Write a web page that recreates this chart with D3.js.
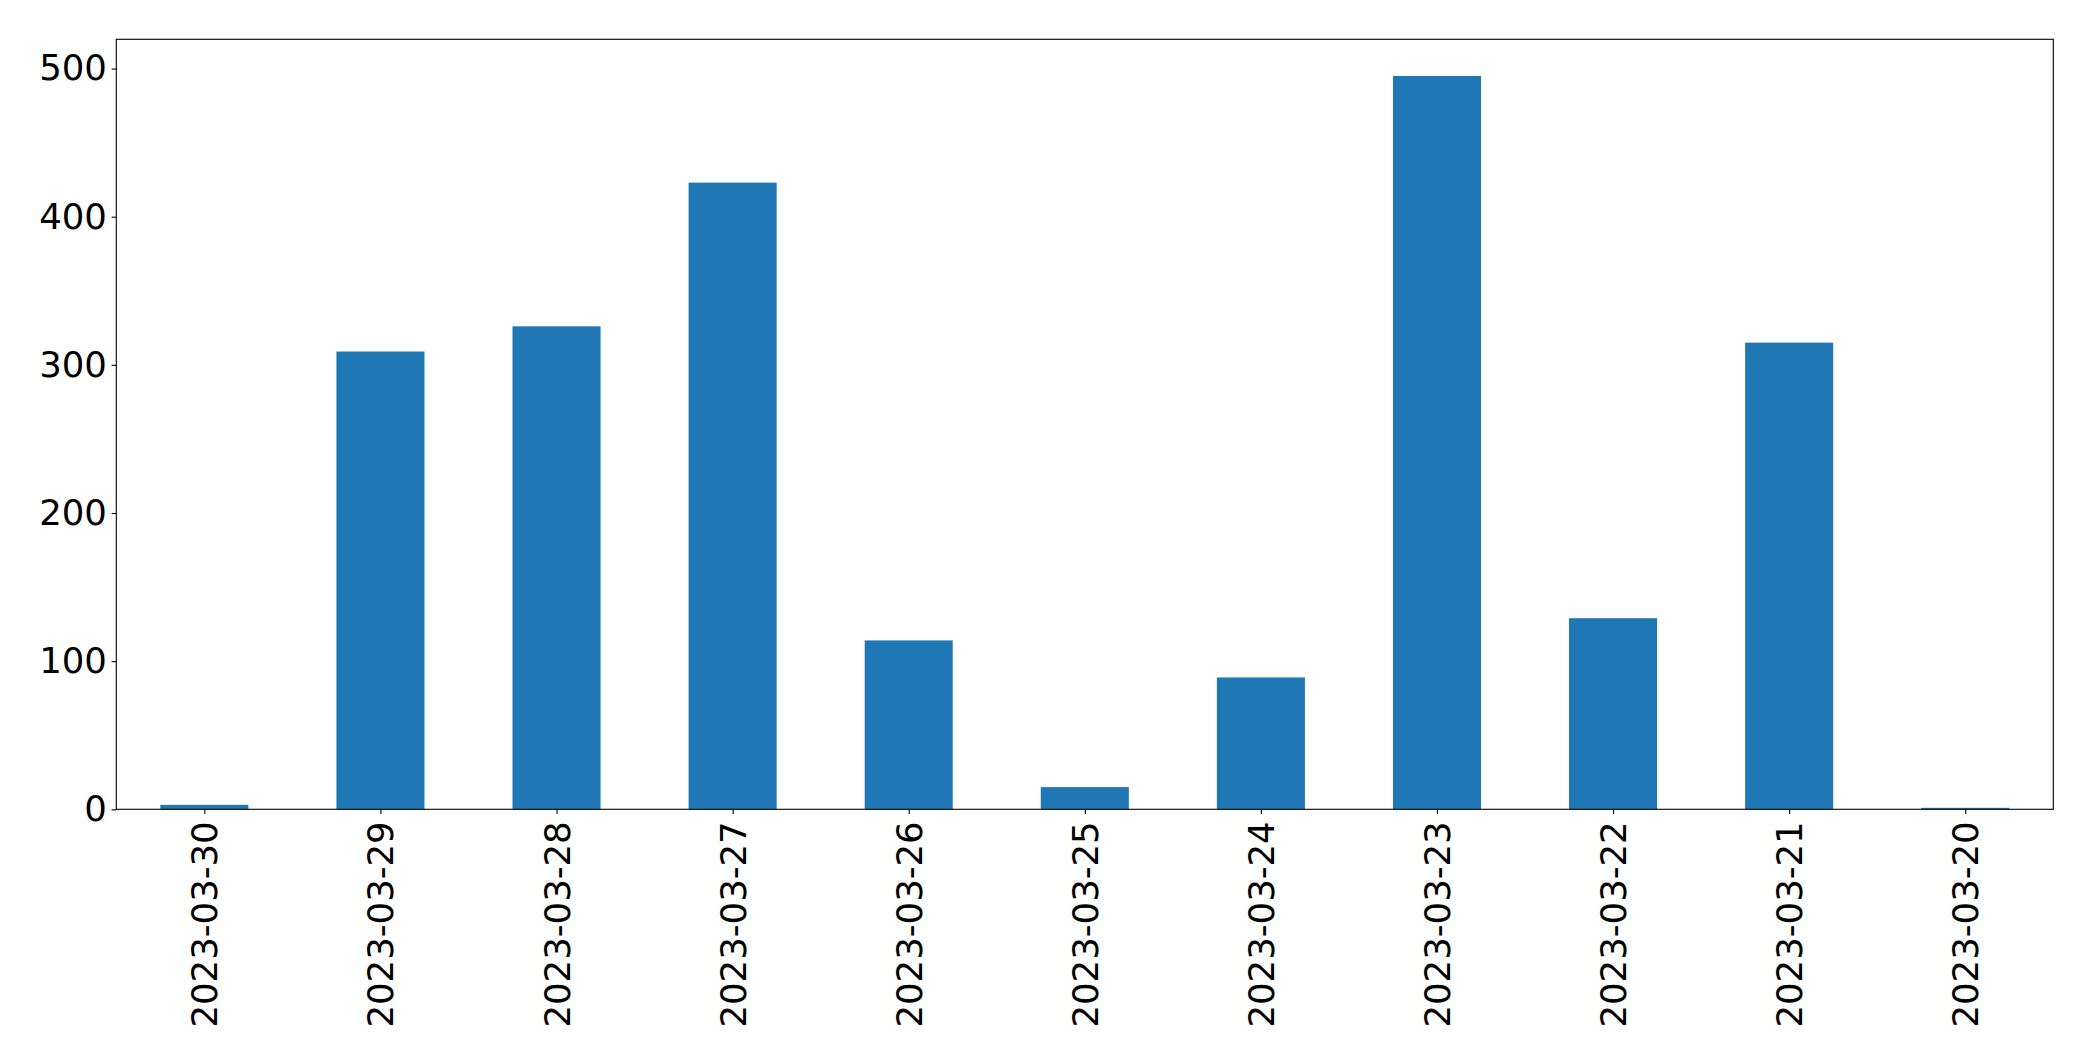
<!DOCTYPE html>
<html>
<head>
<meta charset="utf-8">
<script src="https://cdn.jsdelivr.net/npm/d3@7"></script>
<style>
  html, body { margin: 0; padding: 0; background: #fff; }
  svg { display: block; }
</style>
</head>
<body>
<svg id="chart" width="2093" height="1061"></svg>
<script>
const categories = ["2023-03-30","2023-03-29","2023-03-28","2023-03-27","2023-03-26","2023-03-25","2023-03-24","2023-03-23","2023-03-22","2023-03-21","2023-03-20"];
const values = [3, 309, 326, 423, 114, 15, 89, 495, 129, 315, 1];
const yTicks = [0, 100, 200, 300, 400, 500];

const W = 2093, H = 1061;
const m = { left: 116.3, right: 2053.3, top: 39.3, bottom: 809.3 };
const svg = d3.select("#chart");
const font = "'DejaVu Sans', sans-serif";
const fs = 35.5;

const x = d3.scaleLinear().domain([-0.5, categories.length - 0.5]).range([m.left, m.right]);
const y = d3.scaleLinear().domain([0, d3.max(values) * 1.05]).range([m.bottom, m.top]);
const barW = 0.5;

svg.append("g").selectAll("rect").data(values).join("rect")
  .attr("x", (d, i) => x(i - barW / 2))
  .attr("width", (d, i) => x(i + barW / 2) - x(i - barW / 2))
  .attr("y", d => y(d))
  .attr("height", d => y(0) - y(d))
  .attr("fill", "#1f77b4");

// frame
svg.append("rect")
  .attr("x", m.left).attr("y", m.top)
  .attr("width", m.right - m.left).attr("height", m.bottom - m.top)
  .attr("fill", "none").attr("stroke", "#000").attr("stroke-width", 1.1);

// y axis
const yAxis = d3.axisLeft(y).tickValues(yTicks).tickSize(4.7).tickPadding(4.7).tickFormat(d3.format("d"));
const gy = svg.append("g").attr("transform", `translate(${m.left},0)`).call(yAxis);
gy.select(".domain").remove();
gy.selectAll("line").attr("stroke", "#000").attr("stroke-width", 1.1);
gy.selectAll("text").attr("font-family", font).attr("font-size", fs).attr("fill", "#000");

// x axis
const xAxis = d3.axisBottom(x).tickValues(d3.range(categories.length)).tickSize(4.7).tickFormat(i => categories[i]);
const gx = svg.append("g").attr("transform", `translate(0,${m.bottom})`).call(xAxis);
gx.select(".domain").remove();
gx.selectAll("line").attr("stroke", "#000").attr("stroke-width", 1.1);
gx.selectAll("text")
  .attr("font-family", font).attr("font-size", fs).attr("fill", "#000")
  .attr("text-anchor", "end")
  .attr("dy", null)
  .attr("y", null)
  .attr("dominant-baseline", "central")
  .attr("transform", "translate(0,12) rotate(-90)");
</script>
</body>
</html>
